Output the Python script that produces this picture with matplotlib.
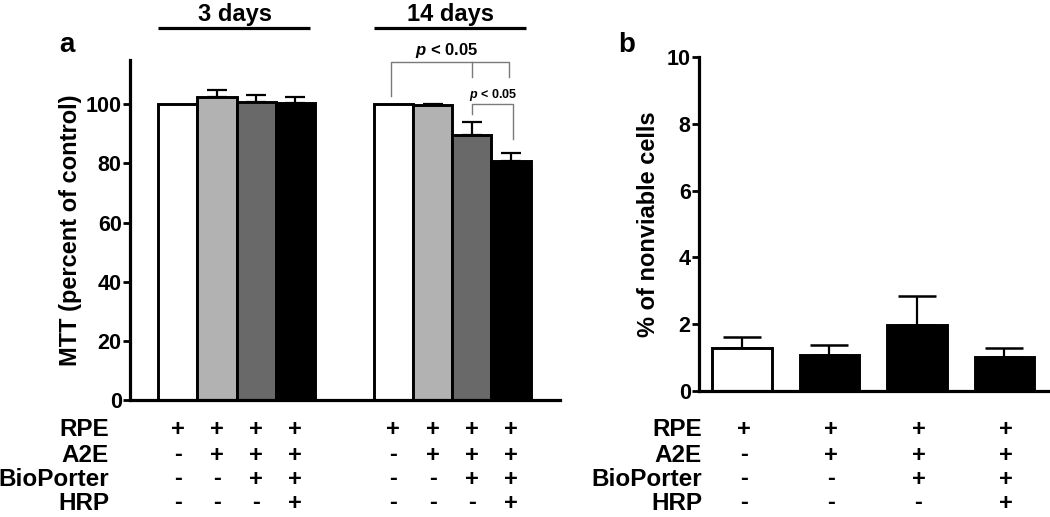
import matplotlib
matplotlib.use("Agg")
import matplotlib.pyplot as plt
import matplotlib.transforms as mtransforms

plt.rcParams['font.family'] = ['Liberation Sans', 'DejaVu Sans']
plt.rcParams['font.weight'] = 'bold'
plt.rcParams['mathtext.fontset'] = 'custom'
plt.rcParams['mathtext.it'] = 'Liberation Sans:italic:bold'
plt.rcParams['mathtext.rm'] = 'Liberation Sans:bold'
plt.rcParams['mathtext.bf'] = 'Liberation Sans:bold'

# ---------------- data ----------------
groups_a = ["3 days", "14 days"]
mtt_3d = [100.0, 102.6, 100.8, 100.3]
mtt_3d_err = [0.0, 2.1, 2.2, 2.3]
mtt_14d = [100.0, 99.7, 89.8, 80.7]
mtt_14d_err = [0.0, 0.5, 4.3, 2.7]
bar_colors_a = ["#ffffff", "#b2b2b2", "#696969", "#000000"]

nonviable = [1.30, 1.08, 1.98, 1.02]
nonviable_err = [0.32, 0.30, 0.86, 0.27]
bar_colors_b = ["#ffffff", "#000000", "#000000", "#000000"]

row_labels = ["RPE", "A2E", "BioPorter", "HRP"]
conditions = [  # per column: RPE, A2E, BioPorter, HRP
    ["+", "-", "-", "-"],
    ["+", "+", "-", "-"],
    ["+", "+", "+", "-"],
    ["+", "+", "+", "+"],
]

W, H = 1050, 517
fig = plt.figure(figsize=(W / 100, H / 100), dpi=100)

def fx(px):
    return px / W

def fy(py):
    return 1 - py / H

SPINE_LW = 2.3
EDGE_LW = 2.1

# ---------------- panel a ----------------
axa = fig.add_axes([fx(130), fy(400), fx(560 - 130), (400 - 60) / H])
x3 = [0, 1, 2, 3]
x14 = [5.5, 6.5, 7.5, 8.5]
axa.bar(x3, mtt_3d, width=1.0, color=bar_colors_a, edgecolor="black", linewidth=EDGE_LW, zorder=2)
axa.bar(x14, mtt_14d, width=1.0, color=bar_colors_a, edgecolor="black", linewidth=EDGE_LW, zorder=2)
for xs, vals, errs in [(x3, mtt_3d, mtt_3d_err), (x14, mtt_14d, mtt_14d_err)]:
    for x, v, e in zip(xs, vals, errs):
        if e > 0:
            axa.errorbar([x], [v], yerr=[[0], [e]], fmt="none", ecolor="black",
                         elinewidth=1.6, capsize=7.5, capthick=1.6, zorder=1)
axa.set_xlim(-1.22, 9.75)
axa.set_ylim(0, 115)
axa.set_yticks([0, 20, 40, 60, 80, 100])
axa.set_xticks([])
for s in ["top", "right"]:
    axa.spines[s].set_visible(False)
for s in ["left", "bottom"]:
    axa.spines[s].set_linewidth(SPINE_LW)
axa.tick_params(axis="y", length=5, width=2, labelsize=15.5, pad=1)
for t in axa.get_yticklabels():
    t.set_fontweight("bold")
axa.set_ylabel("MTT (percent of control)", fontsize=17, fontweight="bold", labelpad=3)

# group headers
for xs, name in [(x3, groups_a[0]), (x14, groups_a[1])]:
    x0, x1 = xs[0] - 0.5, xs[-1] + 0.37
    axa.plot([x0, x1], [125.8, 125.8], color="black", lw=2.3, clip_on=False, solid_capstyle="butt")
    axa.text((xs[0] + xs[-1]) / 2 - 0.05, 130.5, name, ha="center", va="center",
             fontsize=17, fontweight="bold", clip_on=False)

# significance brackets
gcol = "#7a7a7a"
xa, xb, xc = x14[0] - 0.06, x14[2] + 0.01, x14[3] - 0.04
axa.plot([xa, xa, xc, xc], [102.7, 114.2, 114.2, 109.2], color=gcol, lw=1.0, clip_on=False)
axa.plot([xb, xb], [114.2, 109.2], color=gcol, lw=1.0, clip_on=False)
axa.text((xa + xc) / 2 - 0.1, 118.2, r"$p$ < 0.05", ha="center", va="center",
         fontsize=12, fontweight="bold", clip_on=False)
xd = x14[3] + 0.06
axa.plot([xb, xb, xd, xd], [96.6, 100.0, 100.0, 88.2], color=gcol, lw=1.0, clip_on=False)
axa.text((xb + xd) / 2, 103.3, r"$p$ < 0.05", ha="center", va="center",
         fontsize=9, fontweight="bold", clip_on=False)

axa.text(fx(67), fy(45), "a", transform=fig.transFigure, ha="center", va="center",
         fontsize=20, fontweight="bold")

row_y = [430, 455, 479, 503]
trans_a = mtransforms.blended_transform_factory(axa.transData, fig.transFigure)
for r, lab in enumerate(row_labels):
    fig.text(fx(109), fy(row_y[r]), lab, ha="right", va="center", fontsize=17.5, fontweight="bold")
    for xs in (x3, x14):
        for c, x in enumerate(xs):
            axa.text(x, fy(row_y[r]), conditions[c][r], transform=trans_a, ha="center",
                     va="center", fontsize=17, fontweight="bold", clip_on=False)

# ---------------- panel b ----------------
axb = fig.add_axes([fx(699), fy(391), fx(1048 - 699), (391 - 57) / H])
xb_pos = [0, 1, 2, 3]
axb.bar(xb_pos, nonviable, width=0.68, color=bar_colors_b, edgecolor="black",
        linewidth=EDGE_LW, zorder=2)
for x, v, e in zip(xb_pos, nonviable, nonviable_err):
    axb.errorbar([x], [v], yerr=[[0], [e]], fmt="none", ecolor="black",
                 elinewidth=1.6, capsize=13.5, capthick=1.8, zorder=1)
axb.set_xlim(-0.49, 3.5)
axb.set_ylim(0, 10)
axb.set_yticks([0, 2, 4, 6, 8, 10])
axb.set_xticks([])
for s in ["top", "right"]:
    axb.spines[s].set_visible(False)
for s in ["left", "bottom"]:
    axb.spines[s].set_linewidth(SPINE_LW)
axb.tick_params(axis="y", length=5, width=2, labelsize=15.5, pad=1)
for t in axb.get_yticklabels():
    t.set_fontweight("bold")
axb.set_ylabel("% of nonviable cells", fontsize=17, fontweight="bold", labelpad=5)

axb.text(fx(627), fy(45), "b", transform=fig.transFigure, ha="center", va="center",
         fontsize=20, fontweight="bold")

trans_b = mtransforms.blended_transform_factory(axb.transData, fig.transFigure)
for r, lab in enumerate(row_labels):
    fig.text(fx(702), fy(row_y[r]), lab, ha="right", va="center", fontsize=17.5, fontweight="bold")
    for c, x in enumerate(xb_pos):
        axb.text(x + 0.02, fy(row_y[r]), conditions[c][r], transform=trans_b, ha="center",
                 va="center", fontsize=17, fontweight="bold", clip_on=False)

fig.savefig("out.png", dpi=100)
